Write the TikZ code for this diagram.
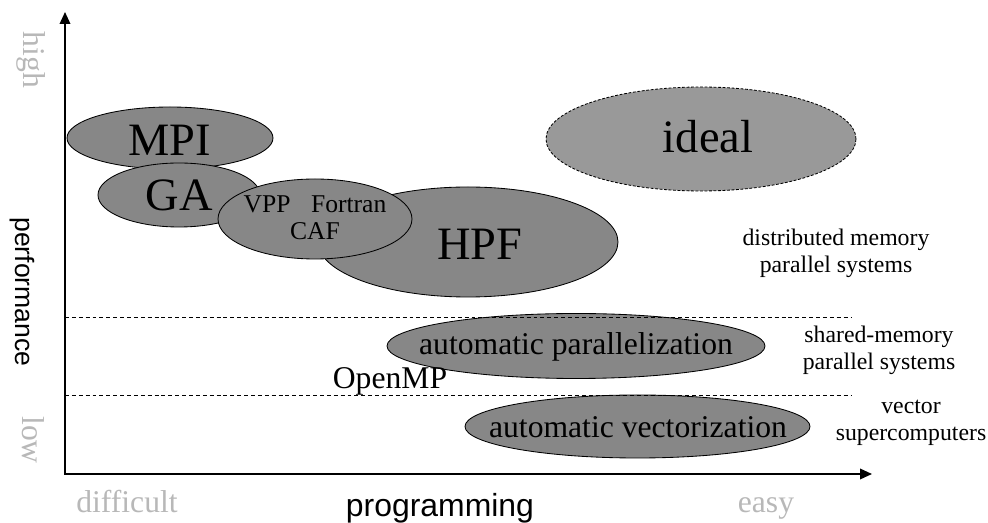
\documentclass[tikz,border=0pt]{standalone}
\usepackage{fontspec}
\setmainfont{Liberation Serif}
\setsansfont{Liberation Sans}
\usetikzlibrary{arrows.meta}

\definecolor{grigioell}{gray}{0.53}
\definecolor{grigioideale}{gray}{0.6}
\definecolor{grigiotesto}{gray}{0.72}

\tikzset{
	asse/.style={line width=1.2pt, {Triangle[length=8.5pt,width=7.5pt]}-{Triangle[length=8.5pt,width=7.5pt]}},
	ellisse/.style={fill=grigioell, draw=black, line width=0.6pt},
	confine/.style={line width=0.5pt, dash pattern=on 2.8pt off 2.1pt},
	grande/.style={font=\fontsize{33}{36}\selectfont},
	medio/.style={font=\fontsize{22.5}{25}\selectfont},
	piccolo/.style={font=\fontsize{18.2}{19.2}\selectfont, align=center},
	sistema/.style={font=\fontsize{16.9}{19.4}\selectfont, align=center},
	estremo/.style={medio, text=grigiotesto},
}

\begin{document}
\begin{tikzpicture}[x=0.025cm, y=-0.025cm]
	\useasboundingbox (0,0) rectangle (988,523);

	% Ellissi dei modelli di programmazione
	\filldraw[ellisse] (170,138) ellipse [x radius=103, y radius=31];
	\node[grande, anchor=base] (mpi) at (170,156) {MPI};

	\filldraw[ellisse] (179,195) ellipse [x radius=81, y radius=32];
	\node[grande, anchor=base] (ga) at (179.5,211) {GA};

	\filldraw[ellisse] (468,242) ellipse [x radius=150, y radius=55];
	\node[grande, anchor=base] (hpf) at (480,260) {HPF};

	\filldraw[ellisse] (315,219) ellipse [x radius=97, y radius=40];
	\node[piccolo] (vpp) at (315,218) {VPP\hspace{0.8em}Fortran\\CAF};

	% Obiettivo ideale
	\filldraw[ellisse, fill=grigioideale, dash pattern=on 2pt off 1.2pt] (701,139) ellipse [x radius=155, y radius=52];
	\node[grande, anchor=base] (ideale) at (708,153) {ideal};

	% Parallelizzazione e vettorizzazione automatiche
	\filldraw[ellisse] (576,346) ellipse [x radius=189, y radius=32.5];
	\node[medio, anchor=base] (autopar) at (576,355) {automatic parallelization};

	\filldraw[ellisse] (637.5,426.5) ellipse [x radius=172.5, y radius=31.5];
	\node[medio, anchor=base] (autovec) at (638,438) {automatic vectorization};

	\node[medio, anchor=base] (openmp) at (390,389) {OpenMP};

	% Confini tra le classi di sistemi
	\foreach \y in {317,395} {
		\draw[confine] (65,\y) -- (852,\y);
	}

	\node[sistema] (distr) at (836,253) {distributed memory\\parallel systems};
	\node[sistema] (shared) at (879,350.5) {shared-memory\\parallel systems};
	\node[sistema] (vector) at (911,422.5) {vector\\supercomputers};

	% Assi
	\coordinate (origine) at (65,474);
	\draw[asse] (65,12) -- (origine) -- (872,474);

	\node[estremo, rotate=-90] (alto) at (31,60) {high};
	\node[estremo, rotate=-90] (basso) at (33,440) {low};
	\node[font=\sffamily\fontsize{18.9}{20}\selectfont, rotate=-90] (prestazioni) at (22,292) {performance};

	\node[estremo, anchor=base] (difficile) at (127,513) {difficult};
	\node[estremo, anchor=base] (facile) at (766,513) {easy};
	\node[font=\sffamily\fontsize{22.7}{24}\selectfont, anchor=base] (programmazione) at (440,517) {programming};

\end{tikzpicture}
\end{document}
